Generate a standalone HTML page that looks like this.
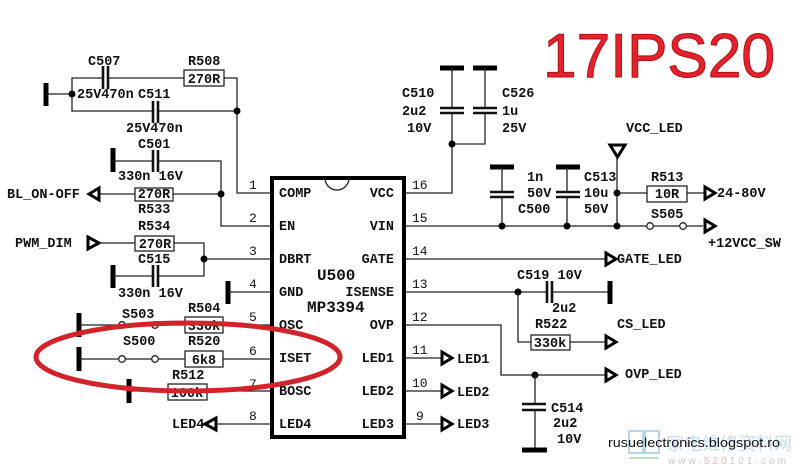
<!DOCTYPE html>
<html><head><meta charset="utf-8"><style>
html,body{margin:0;padding:0;background:#fff;}
svg{display:block;}
.t{font-family:"Liberation Mono",monospace;font-weight:bold;font-size:13.5px;fill:#111;}
.n{font-family:"Liberation Mono",monospace;font-size:13px;fill:#111;}
.w{stroke:#222;stroke-width:1.3;fill:none;}
.g{stroke:#000;stroke-width:5;}
.p{stroke:#111;stroke-width:2.6;}
.b{fill:#fff;stroke:#222;stroke-width:1.3;}
.a{fill:#fff;stroke:#000;stroke-width:3;stroke-linejoin:miter;}
.d{fill:#000;}
</style></head><body>
<svg width="800" height="470" viewBox="0 0 800 470" xmlns="http://www.w3.org/2000/svg">
<rect width="800" height="470" fill="#fff"/>

<!-- watermark bottom-right -->
<rect x="629" y="431" width="14" height="22" fill="none" stroke="#b8d4e8" stroke-width="2"/>
<rect x="645" y="431" width="14" height="22" fill="none" stroke="#b8d4e8" stroke-width="2"/>
<line x1="629" y1="458" x2="659" y2="458" stroke="#bfe0c0" stroke-width="2"/>
<text x="666" y="450" font-family="'Noto Sans CJK SC',sans-serif" font-size="18" fill="#c4dcee">家电维修资料网</text>
<text x="668" y="464" font-family="'Liberation Sans',sans-serif" font-size="10" fill="#c8c8c8" letter-spacing="3">www.<tspan fill="#f0b0b0">520</tspan>101.com</text>

<!-- title -->
<text x="543" y="77" font-family="'Liberation Sans',sans-serif" font-size="62" fill="#e4222c" stroke="#b01018" stroke-width="1" textLength="232" lengthAdjust="spacingAndGlyphs">17IPS20</text>

<!-- ============ LEFT SIDE ============ -->
<!-- C507 / R508 / C511 network -->
<line class="g" x1="46" y1="83" x2="46" y2="106"/>
<polyline class="w" points="46,94 72,94"/>
<polyline class="w" points="103,78 72,78 72,111 153,111"/>
<line class="w" x1="107" y1="78" x2="184" y2="78"/>
<line class="p" x1="103" y1="66" x2="103" y2="89"/>
<line class="p" x1="108" y1="66" x2="108" y2="89"/>
<rect class="b" x="184" y="70" width="40" height="16"/>
<polyline class="w" points="224,78 237,78 237,193 270,193"/>
<line class="w" x1="157" y1="111" x2="237" y2="111"/>
<line class="p" x1="153" y1="101" x2="153" y2="123"/>
<line class="p" x1="158" y1="101" x2="158" y2="123"/>
<circle class="d" cx="72" cy="94" r="3.5"/>
<circle class="d" cx="237" cy="111" r="3.5"/>
<text class="t" x="88" y="65">C507</text>
<text class="t" x="188" y="65">R508</text>
<text class="t" x="204" y="83" text-anchor="middle">270R</text>
<text class="t" x="77" y="98">25V470n</text>
<text class="t" x="138" y="98">C511</text>
<text class="t" x="126" y="132">25V470n</text>

<!-- C501 / R533 / BL_ON-OFF -->
<line class="g" x1="113" y1="148" x2="113" y2="172"/>
<line class="w" x1="113" y1="161" x2="153" y2="161"/>
<line class="p" x1="153" y1="150" x2="153" y2="172"/>
<line class="p" x1="158" y1="150" x2="158" y2="172"/>
<polyline class="w" points="158,161 221,161 221,226 270,226"/>
<line class="w" x1="100" y1="194" x2="135" y2="194"/>
<rect class="b" x="135" y="188" width="38" height="13"/>
<line class="w" x1="173" y1="194" x2="221" y2="194"/>
<circle class="d" cx="221" cy="194" r="3.5"/>
<polygon class="a" points="89,194 99,188 99,200"/>
<text class="t" x="138" y="148">C501</text>
<text class="t" x="118" y="180">330n 16V</text>
<text class="t" x="7" y="198">BL_ON-OFF</text>
<text class="t" x="154" y="198" text-anchor="middle">270R</text>
<text class="t" x="138" y="213">R533</text>

<!-- R534 / C515 / PWM_DIM -->
<polygon class="a" points="88,237 88,249 99,243"/>
<line class="w" x1="99" y1="243" x2="135" y2="243"/>
<rect class="b" x="135" y="236" width="39" height="15"/>
<polyline class="w" points="174,243 204,243 204,276 158,276"/>
<line class="w" x1="204" y1="259" x2="270" y2="259"/>
<circle class="d" cx="204" cy="259" r="3.5"/>
<line class="g" x1="113" y1="265" x2="113" y2="288"/>
<line class="w" x1="113" y1="276" x2="153" y2="276"/>
<line class="p" x1="153" y1="265" x2="153" y2="287"/>
<line class="p" x1="158" y1="265" x2="158" y2="287"/>
<text class="t" x="138" y="230">R534</text>
<text class="t" x="15" y="247">PWM_DIM</text>
<text class="t" x="155" y="248" text-anchor="middle">270R</text>
<text class="t" x="138" y="263">C515</text>
<text class="t" x="118" y="297">330n 16V</text>

<!-- pin4 gnd -->
<line class="g" x1="228" y1="281" x2="228" y2="304"/>
<line class="w" x1="228" y1="292" x2="270" y2="292"/>

<!-- S503 / R504 -->
<line class="g" x1="79" y1="313" x2="79" y2="337"/>
<line class="w" x1="79" y1="325" x2="185" y2="325"/>
<circle class="b" cx="122" cy="325" r="3.3"/>
<circle class="b" cx="155" cy="325" r="3.3"/>
<rect class="b" x="185" y="317" width="38" height="16"/>
<line class="w" x1="223" y1="325" x2="270" y2="325"/>
<text class="t" x="122" y="318">S503</text>
<text class="t" x="188" y="312">R504</text>
<text class="t" x="204" y="330" text-anchor="middle">330k</text>

<!-- S500 / R520 -->
<line class="g" x1="79" y1="347" x2="79" y2="371"/>
<line class="w" x1="79" y1="359" x2="185" y2="359"/>
<circle class="b" cx="122" cy="359" r="3.3"/>
<circle class="b" cx="155" cy="359" r="3.3"/>
<rect class="b" x="185" y="351" width="38" height="16"/>
<line class="w" x1="223" y1="359" x2="270" y2="359"/>
<text class="t" x="123" y="345">S500</text>
<text class="t" x="188" y="345">R520</text>
<text class="t" x="204" y="364" text-anchor="middle">6k8</text>

<!-- R512 -->
<line class="g" x1="129" y1="379" x2="129" y2="403"/>
<line class="w" x1="129" y1="391" x2="168" y2="391"/>
<rect class="b" x="168" y="384" width="39" height="16"/>
<line class="w" x1="207" y1="391" x2="270" y2="391"/>
<text class="t" x="172" y="379">R512</text>
<text class="t" x="187" y="397" text-anchor="middle">100k</text>

<!-- LED4 -->
<polygon class="a" points="205,424 216,418 216,430"/>
<line class="w" x1="216" y1="424" x2="270" y2="424"/>
<text class="t" x="172" y="428">LED4</text>

<!-- left pin numbers -->
<text class="n" x="249" y="189">1</text>
<text class="n" x="249" y="222">2</text>
<text class="n" x="249" y="255">3</text>
<text class="n" x="249" y="288">4</text>
<text class="n" x="249" y="321">5</text>
<text class="n" x="249" y="355">6</text>
<text class="n" x="249" y="388">7</text>
<text class="n" x="249" y="420">8</text>

<!-- ============ CHIP ============ -->
<rect x="272" y="178" width="132" height="259" fill="#fff" stroke="#000" stroke-width="4"/>
<path d="M325,178 A12,12 0 0 0 349,178" fill="none" stroke="#222" stroke-width="1.3"/>
<g class="t">
<text x="279" y="197">COMP</text>
<text x="279" y="230">EN</text>
<text x="279" y="263">DBRT</text>
<text x="279" y="296">GND</text>
<text x="279" y="329">OSC</text>
<text x="279" y="362">ISET</text>
<text x="279" y="395">BOSC</text>
<text x="279" y="428">LED4</text>
<text x="394" y="197" text-anchor="end">VCC</text>
<text x="394" y="230" text-anchor="end">VIN</text>
<text x="394" y="263" text-anchor="end">GATE</text>
<text x="394" y="296" text-anchor="end">ISENSE</text>
<text x="394" y="329" text-anchor="end">OVP</text>
<text x="394" y="362" text-anchor="end">LED1</text>
<text x="394" y="395" text-anchor="end">LED2</text>
<text x="394" y="428" text-anchor="end">LED3</text>
</g>
<text class="t" x="317" y="280" style="font-size:16px">U500</text>
<text class="t" x="307" y="312" style="font-size:16px">MP3394</text>

<!-- right pin numbers -->
<text class="n" x="412" y="189">16</text>
<text class="n" x="412" y="222">15</text>
<text class="n" x="412" y="255">14</text>
<text class="n" x="412" y="288">13</text>
<text class="n" x="412" y="321">12</text>
<text class="n" x="412" y="354">11</text>
<text class="n" x="412" y="387">10</text>
<text class="n" x="416" y="420">9</text>

<!-- ============ RIGHT SIDE ============ -->
<!-- C510 / C526 -->
<line class="g" x1="440" y1="68" x2="464" y2="68"/>
<line class="g" x1="473" y1="68" x2="497" y2="68"/>
<polyline class="w" points="452,68 452,108"/>
<polyline class="w" points="452,113 452,193 406,193"/>
<line class="p" x1="440" y1="108" x2="464" y2="108"/>
<line class="p" x1="440" y1="113" x2="464" y2="113"/>
<line class="w" x1="485" y1="68" x2="485" y2="108"/>
<polyline class="w" points="485,113 485,144 452,144"/>
<line class="p" x1="473" y1="108" x2="497" y2="108"/>
<line class="p" x1="473" y1="113" x2="497" y2="113"/>
<circle class="d" cx="452" cy="144" r="3.5"/>
<text class="t" x="402" y="97">C510</text>
<text class="t" x="402" y="115">2u2</text>
<text class="t" x="407" y="132">10V</text>
<text class="t" x="502" y="97">C526</text>
<text class="t" x="502" y="115">1u</text>
<text class="t" x="502" y="132">25V</text>

<!-- VIN line -->
<line class="w" x1="406" y1="226" x2="703" y2="226"/>
<line class="g" x1="490" y1="167" x2="514" y2="167"/>
<line class="w" x1="502" y1="167" x2="502" y2="192"/>
<line class="w" x1="502" y1="197" x2="502" y2="226"/>
<line class="p" x1="490" y1="192" x2="514" y2="192"/>
<line class="p" x1="490" y1="197" x2="514" y2="197"/>
<line class="g" x1="556" y1="167" x2="580" y2="167"/>
<line class="w" x1="567" y1="167" x2="567" y2="192"/>
<line class="w" x1="567" y1="197" x2="567" y2="226"/>
<line class="p" x1="556" y1="192" x2="580" y2="192"/>
<line class="p" x1="556" y1="197" x2="580" y2="197"/>
<circle class="d" cx="502" cy="226" r="3.5"/>
<circle class="d" cx="567" cy="226" r="3.5"/>
<text class="t" x="527" y="181">1n</text>
<text class="t" x="527" y="197">50V</text>
<text class="t" x="518" y="213">C500</text>
<text class="t" x="584" y="181">C513</text>
<text class="t" x="584" y="197">10u</text>
<text class="t" x="584" y="213">50V</text>

<!-- VCC_LED -->
<polygon class="a" points="610,145 625,145 617.5,157"/>
<line class="w" x1="617" y1="157" x2="617" y2="226"/>
<circle class="d" cx="617" cy="193" r="3.5"/>
<circle class="d" cx="617" cy="226" r="3.5"/>
<text class="t" x="626" y="132">VCC_LED</text>
<line class="w" x1="617" y1="193" x2="647" y2="193"/>
<rect class="b" x="647" y="186" width="40" height="16"/>
<line class="w" x1="687" y1="193" x2="704" y2="193"/>
<polygon class="a" points="705,187 705,199 715,193"/>
<text class="t" x="651" y="181">R513</text>
<text class="t" x="667" y="198" text-anchor="middle">10R</text>
<text class="t" x="717" y="197">24-80V</text>
<circle class="b" cx="650" cy="226" r="3.3"/>
<circle class="b" cx="683" cy="226" r="3.3"/>
<polygon class="a" points="705,220 705,232 715,226"/>
<text class="t" x="651" y="218">S505</text>
<text class="t" x="708" y="247">+12VCC_SW</text>

<!-- GATE -->
<line class="w" x1="406" y1="259" x2="605" y2="259"/>
<polygon class="a" points="606,253 606,265 616,259"/>
<text class="t" x="617" y="263">GATE_LED</text>

<!-- ISENSE -->
<line class="w" x1="406" y1="292" x2="547" y2="292"/>
<line class="p" x1="547" y1="281" x2="547" y2="303"/>
<line class="p" x1="552" y1="281" x2="552" y2="303"/>
<line class="w" x1="552" y1="292" x2="610" y2="292"/>
<line class="g" x1="610" y1="281" x2="610" y2="304"/>
<circle class="d" cx="518" cy="292" r="3.5"/>
<polyline class="w" points="518,292 518,342 531,342"/>
<rect class="b" x="531" y="335" width="39" height="15"/>
<line class="w" x1="570" y1="342" x2="605" y2="342"/>
<polygon class="a" points="606,336 606,348 616,342"/>
<text class="t" x="517" y="279">C519 10V</text>
<text class="t" x="552" y="312">2u2</text>
<text class="t" x="535" y="328">R522</text>
<text class="t" x="550" y="347" text-anchor="middle">330k</text>
<text class="t" x="617" y="328">CS_LED</text>

<!-- OVP -->
<polyline class="w" points="406,325 501,325 501,375 605,375"/>
<polygon class="a" points="606,369 606,381 616,375"/>
<circle class="d" cx="535" cy="375" r="3.5"/>
<line class="w" x1="535" y1="375" x2="535" y2="404"/>
<line class="p" x1="522" y1="404" x2="546" y2="404"/>
<line class="p" x1="522" y1="410" x2="546" y2="410"/>
<line class="w" x1="535" y1="410" x2="535" y2="449"/>
<line class="g" x1="522" y1="450" x2="547" y2="450"/>
<text class="t" x="625" y="378">OVP_LED</text>
<text class="t" x="551" y="412">C514</text>
<text class="t" x="553" y="427">2u2</text>
<text class="t" x="557" y="443">10V</text>

<!-- LED1..3 -->
<line class="w" x1="406" y1="358" x2="441" y2="358"/>
<polygon class="a" points="442,352 442,364 452,358"/>
<line class="w" x1="406" y1="391" x2="441" y2="391"/>
<polygon class="a" points="442,385 442,397 452,391"/>
<line class="w" x1="406" y1="424" x2="441" y2="424"/>
<polygon class="a" points="442,418 442,430 452,424"/>
<text class="t" x="457" y="363">LED1</text>
<text class="t" x="457" y="396">LED2</text>
<text class="t" x="457" y="428">LED3</text>

<!-- footer text -->
<text x="608" y="447" font-family="'Liberation Sans',sans-serif" font-size="13" fill="#111" textLength="172" lengthAdjust="spacingAndGlyphs">rusuelectronics.blogspot.ro</text>

<!-- red ellipse -->
<ellipse cx="188" cy="357" rx="152" ry="34" fill="none" stroke="#d2232b" stroke-width="5"/>
</svg>
</body></html>
